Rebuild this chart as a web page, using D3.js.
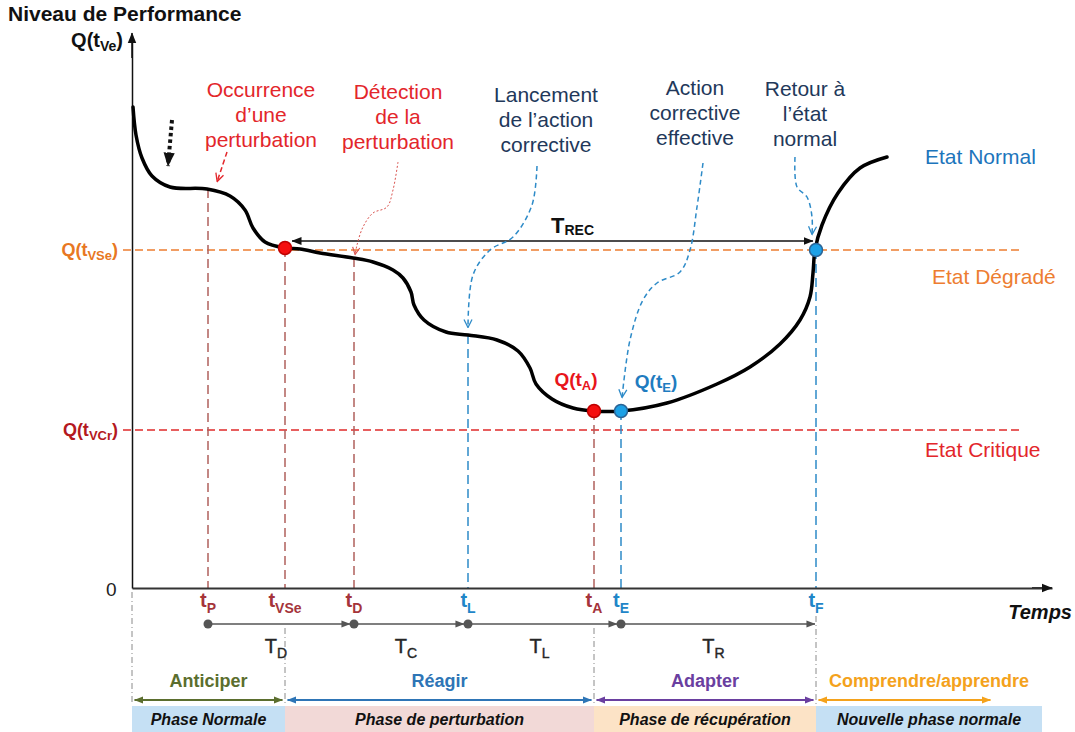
<!DOCTYPE html>
<html>
<head>
<meta charset="utf-8">
<script src="https://cdn.jsdelivr.net/npm/d3@7"></script>
<style>
  body { margin: 0; background: #fff; }
  svg { display: block; font-family: "Liberation Sans", Arial, sans-serif; }
</style>
</head>
<body>
<div id="chart"></div>
<script>
// performance curve Q(t) (arbitrary units)
var curve = [
  [0.1, 48.1], [0.4, 45.3], [1.0, 43.0], [2.0, 41.2], [3.8, 40.1], [7.5, 39.9],
  [9.8, 39.2], [11.3, 37.8], [12.1, 36.0], [13.3, 34.6], [15.3, 34.0], [16.8, 33.9],
  [18.8, 33.5], [22.1, 33.0], [24.1, 32.6], [26.1, 31.8], [27.1, 31.0], [27.9, 29.6],
  [28.2, 28.3], [29.2, 26.8], [31.4, 25.6], [33.6, 25.3], [36.5, 24.8], [38.6, 23.7],
  [39.8, 22.0], [40.4, 20.4], [42.0, 18.9], [44.1, 18.0], [46.2, 17.7], [48.9, 17.7],
  [53.5, 18.5], [58.5, 20.4], [61.8, 22.1], [64.8, 24.4], [66.8, 26.8], [67.8, 29.1],
  [68.1, 31.5], [68.3, 33.8], [69.0, 36.3], [70.6, 39.5], [72.8, 42.0], [75.5, 43.1]
];

// events on the time axis (t) and the performance level where they happen (q)
var events = [
  {id: "P",   t: 7.6,  q: 39.9, group: "pert"},
  {id: "VSe", t: 15.3, q: 34.0, group: "pert"},
  {id: "D",   t: 22.2, q: 33.0, group: "pert"},
  {id: "L",   t: 33.6, q: 25.3, group: "act"},
  {id: "A",   t: 46.2, q: 17.7, group: "pert"},
  {id: "E",   t: 48.9, q: 17.7, group: "act"},
  {id: "F",   t: 68.4, q: 33.8, group: "act"}
];
var markedEvents = ["VSe", "A", "E", "F"];

// thresholds
var thresholds = [
  {id: "VSe", q: 33.8},
  {id: "VCr", q: 15.8}
];
var stateNames = ["Etat Normal", "Etat Dégradé", "Etat Critique"];

// durations between events
var durations = [
  {id: "D", from: "P", to: "D"},
  {id: "C", from: "D", to: "L"},
  {id: "L", from: "L", to: "E"},
  {id: "R", from: "E", to: "F"}
];
var recovery = {from: "VSe", to: "F", q: 34.7};

// phases
var phaseBounds = [0, 15.3, 46.2, 68.4, 91];
var phaseNames = ["Phase Normale", "Phase de perturbation", "Phase de récupération", "Nouvelle phase normale"];
var verbNames = ["Anticiper", "Réagir", "Adapter", "Comprendre/apprendre"];
var learnEnd = 86.1;

// callouts: text and the leader path (t, q)
var callouts = [
  {lines: ["Occurrence", "d’une", "perturbation"], kind: "red",
   path: [[9.5, 43.6], [9.0, 42.1], [8.5, 40.6]]},
  {lines: ["Détection", "de la", "perturbation"], kind: "redthin",
   path: [[26.6, 42.6], [26.1, 39.8], [25.5, 38.1], [24.1, 37.5], [23.1, 36.1], [22.5, 34.3], [22.3, 33.3]]},
  {lines: ["Lancement", "de l’action", "corrective"], kind: "blue",
   path: [[40.5, 42.2], [40.0, 38.3], [38.1, 35.1], [35.8, 33.8], [34.1, 31.3], [33.6, 26.0]]},
  {lines: ["Action", "corrective", "effective"], kind: "blue",
   path: [[57.1, 42.5], [56.5, 38.1], [55.8, 33.8], [54.8, 31.6], [52.5, 30.5], [51.1, 28.8], [49.8, 24.8], [49.0, 19.0]]},
  {lines: ["Retour à", "l’état", "normal"], kind: "blue",
   path: [[66.3, 43.1], [66.5, 40.1], [67.5, 39.1], [68.0, 37.1], [68.0, 35.3]]}
];
var nudge = [[4.0, 46.8], [3.6, 42.2]];

// ---- drawing ----
var W = 1075, H = 732;
var svg = d3.select("#chart").append("svg").attr("width", W).attr("height", H);
var defs = svg.append("defs");

var x = d3.scaleLinear().domain([0, 92]).range([132, 1052]);
var y = d3.scaleLinear().domain([0, 55.3]).range([588, 35]);

var RED = "#E3262B", NAVY = "#22385A", BLUE = "#1C75BC", ORANGE = "#ED7D31";
var groupText = {pert: "#A5343A", act: "#1F86C8"};
var groupLine = {pert: "#B0605C", act: "#2E8BC8"};

function marker(id, color, open, size) {
  var m = defs.append("marker").attr("id", id)
    .attr("viewBox", "0 -5 10 10").attr("refX", 9.5).attr("refY", 0)
    .attr("markerUnits", "userSpaceOnUse")
    .attr("markerWidth", size).attr("markerHeight", size)
    .attr("orient", "auto-start-reverse");
  m.append("path")
    .attr("d", open ? "M1,-4L9,0L1,4" : "M0,-4L10,0L0,4Z")
    .attr("fill", open ? "none" : color)
    .attr("stroke", open ? color : "none")
    .attr("stroke-width", open ? 1.3 : 0);
}
marker("ax", "#111", false, 11);
marker("blk", "#111", false, 10);
marker("nudge", "#111", false, 14);
marker("gry", "#555", false, 9);
marker("c-red", RED, true, 10);
marker("c-redthin", "#D9534F", true, 9);
marker("c-blue", "#2E8BC8", true, 10);
var verbColors = ["#5B6E2E", "#2E75B6", "#6A3FA0", "#F4A21C"];
verbColors.forEach(function (c, i) { marker("v" + i, c, false, 9); });

// text with _{sub} parts
function rich(g, str, px, py, o) {
  var t = g.append("text").attr("x", px).attr("y", py)
    .attr("text-anchor", o.anchor || "start").attr("fill", o.color || "#000")
    .style("font-size", o.size + "px")
    .style("font-weight", o.bold ? "bold" : "normal")
    .style("font-style", o.italic ? "italic" : "normal");
  var bits = str.split(/_\{([^}]*)\}/);
  var subSize = o.sub || Math.round(o.size * 0.7);
  var shift = o.shift != null ? o.shift : Math.round(o.size * 0.25);
  var cur = 0;
  bits.forEach(function (b, i) {
    if (!b) return;
    var isSub = i % 2 === 1;
    var target = isSub ? shift : 0;
    t.append("tspan").attr("dy", target - cur)
      .style("font-size", (isSub ? subSize : o.size) + "px").text(b);
    cur = target;
  });
  return t;
}

var byId = {};
events.forEach(function (e) { byId[e.id] = e; });
var y0 = y(0);

// phase boxes
var boxColors = ["#C5E0F4", "#F2D9D7", "#FCE3C6", "#C5E0F4"];
var phases = svg.append("g");
phaseNames.forEach(function (name, i) {
  var a = x(phaseBounds[i]), b = x(phaseBounds[i + 1]);
  phases.append("rect").attr("x", a).attr("y", 706).attr("width", b - a).attr("height", 26)
    .attr("fill", boxColors[i]);
  rich(phases, name, (a + b) / 2, 725, {size: 16, bold: true, italic: true, anchor: "middle", color: "#111"});
  var end = i === 3 ? x(learnEnd) : b;
  phases.append("line").attr("x1", a + 2.5).attr("x2", end - 2.5).attr("y1", 700).attr("y2", 700)
    .attr("stroke", verbColors[i]).attr("stroke-width", 2)
    .attr("marker-start", "url(#v" + i + ")").attr("marker-end", "url(#v" + i + ")");
  rich(phases, verbNames[i], (a + b) / 2, 687, {size: 18, bold: true, anchor: "middle", color: verbColors[i]});
});

// gray dash-dot separators
var seps = [{t: 0, top: y0 + 4}, {t: byId.VSe.t, top: 628}, {t: byId.A.t, top: 628}, {t: byId.F.t, top: 616}];
svg.append("g").selectAll("line").data(seps).join("line")
  .attr("x1", function (d) { return x(d.t); }).attr("x2", function (d) { return x(d.t); })
  .attr("y1", function (d) { return d.top; }).attr("y2", 705)
  .attr("stroke", "#8a8a8a").attr("stroke-width", 1).attr("stroke-dasharray", "6,3,1,3");

// thresholds
var thrColors = [ORANGE, "#E02A2A"];
svg.append("g").selectAll("line").data(thresholds).join("line")
  .attr("x1", x(0) - 9).attr("x2", x(89.1))
  .attr("y1", function (d) { return y(d.q); }).attr("y2", function (d) { return y(d.q); })
  .attr("stroke", function (d, i) { return thrColors[i]; })
  .attr("stroke-width", 1.5).attr("stroke-dasharray", "8,4");
var thrLabelColors = ["#E87722", "#B4191E"];
thresholds.forEach(function (d, i) {
  rich(svg, "Q(t_{" + d.id + "})", 118, y(d.q) + 6, {size: 18, bold: true, anchor: "end", color: thrLabelColors[i], sub: 13, shift: 4});
});

// event verticals
svg.append("g").selectAll("line").data(events).join("line")
  .attr("x1", function (d) { return x(d.t); }).attr("x2", function (d) { return x(d.t); })
  .attr("y1", function (d) { return y(d.q); }).attr("y2", y0)
  .attr("stroke", function (d) { return groupLine[d.group]; })
  .attr("stroke-width", 1.5).attr("stroke-dasharray", "9,5");

// axes
var xAxis = svg.append("g").attr("transform", "translate(0," + y0 + ")")
  .call(d3.axisBottom(x).tickValues([]).tickSize(0).tickSizeOuter(0));
xAxis.select(".domain").attr("stroke", "#333").attr("stroke-width", 2);
var yAxis = svg.append("g").attr("transform", "translate(" + x(0) + ",0)")
  .call(d3.axisLeft(y).tickValues([]).tickSize(0).tickSizeOuter(0));
yAxis.select(".domain").attr("stroke", "#111").attr("stroke-width", 1.5);
svg.append("line").attr("x1", x(90)).attr("x2", x(92)).attr("y1", y0).attr("y2", y0)
  .attr("stroke", "#333").attr("stroke-width", 2).attr("marker-end", "url(#ax)");
svg.append("line").attr("x1", x(0)).attr("x2", x(0)).attr("y1", y(53)).attr("y2", y(55.5))
  .attr("stroke", "#111").attr("stroke-width", 1.5).attr("marker-end", "url(#ax)");
svg.append("text").attr("x", 106).attr("y", 596).style("font-size", "19px").attr("fill", "#222").text("0");

rich(svg, "Niveau de Performance", 8, 21, {size: 21, bold: true, color: "#111"});
rich(svg, "Q(t_{Ve})", 123, 47, {size: 20, bold: true, anchor: "end", color: "#111", sub: 14, shift: 4});
rich(svg, "Temps", 1072, 619, {size: 20, bold: true, italic: true, anchor: "end", color: "#111"});

// event tick labels
events.forEach(function (e) {
  rich(svg, "t_{" + e.id + "}", x(e.t), 607, {size: 20, bold: true, anchor: "middle", color: groupText[e.group], sub: 14, shift: 6});
});

// duration timeline
var tlY = y0 + 36;
var tl = svg.append("g");
durations.forEach(function (d, i) {
  var a = x(byId[d.from].t), b = x(byId[d.to].t);
  var last = i === durations.length - 1;
  tl.append("line").attr("x1", a + 4).attr("x2", last ? b - 1 : b - 4).attr("y1", tlY).attr("y2", tlY)
    .attr("stroke", "#555").attr("stroke-width", 1.5).attr("marker-end", "url(#gry)");
  tl.append("circle").attr("cx", a).attr("cy", tlY).attr("r", 4.5).attr("fill", "#555");
  rich(tl, "T_{" + d.id + "}", (a + b) / 2 - 5, 653, {size: 20, anchor: "middle", color: "#262626", sub: 14, shift: 5})
    .style("stroke", "#262626").style("stroke-width", 0.4);
});

// T_REC arrow
var rx1 = x(byId[recovery.from].t) + 7, rx2 = x(byId[recovery.to].t) - 3;
svg.append("line").attr("x1", rx1).attr("x2", rx2).attr("y1", y(recovery.q)).attr("y2", y(recovery.q))
  .attr("stroke", "#111").attr("stroke-width", 1.5)
  .attr("marker-start", "url(#blk)").attr("marker-end", "url(#blk)");
rich(svg, "T_{REC}", (rx1 + rx2) / 2 + 20, 233, {size: 22, bold: true, anchor: "middle", color: "#111", sub: 14, shift: 2});

// the curve
var line = d3.line().x(function (d) { return x(d[0]); }).y(function (d) { return y(d[1]); })
  .curve(d3.curveCatmullRom.alpha(0.5));
svg.append("path").datum(curve).attr("d", line)
  .attr("fill", "none").attr("stroke", "#000").attr("stroke-width", 3.5)
  .attr("stroke-linecap", "round").attr("stroke-linejoin", "round");

// dotted nudge arrow
svg.append("path").datum(nudge).attr("d", d3.line().x(function (d) { return x(d[0]); }).y(function (d) { return y(d[1]); }))
  .attr("stroke", "#111").attr("stroke-width", 4).attr("stroke-dasharray", "3.5,3")
  .attr("marker-end", "url(#nudge)");

// callouts
var calloutStyle = {
  red: {color: RED, width: 1.5, dash: "5,3", marker: "c-red", text: RED},
  redthin: {color: "#D9534F", width: 1, dash: "2,2", marker: "c-redthin", text: RED},
  blue: {color: "#2E8BC8", width: 1.5, dash: "5,3.5", marker: "c-blue", text: NAVY}
};
var calloutText = [[261, 97], [398, 99], [546, 102], [695, 95], [805, 96]];
var lead = d3.line().x(function (d) { return x(d[0]); }).y(function (d) { return y(d[1]); })
  .curve(d3.curveCatmullRom.alpha(0.5));
callouts.forEach(function (c, i) {
  var s = calloutStyle[c.kind];
  svg.append("path").datum(c.path).attr("d", lead)
    .attr("fill", "none").attr("stroke", s.color).attr("stroke-width", s.width)
    .attr("stroke-dasharray", s.dash).attr("marker-end", "url(#" + s.marker + ")");
  c.lines.forEach(function (l, j) {
    rich(svg, l, calloutText[i][0], calloutText[i][1] + j * 25, {size: 21, anchor: "middle", color: s.text});
  });
});

// marked points
var pts = events.filter(function (e) { return markedEvents.indexOf(e.id) >= 0; });
svg.append("g").selectAll("circle").data(pts).join("circle")
  .attr("cx", function (d) { return x(d.t); }).attr("cy", function (d) { return y(d.q); })
  .attr("r", 6.5)
  .attr("fill", function (d) { return d.group === "pert" ? "#F50F0F" : "#1DA1E6"; })
  .attr("stroke", function (d) { return d.group === "pert" ? "#C00000" : "#2A6496"; })
  .attr("stroke-width", 1.5);

rich(svg, "Q(t_{A})", x(byId.A.t) - 18, y(byId.A.q) - 25, {size: 19, bold: true, anchor: "middle", color: "#E8151B", sub: 13, shift: 4});
rich(svg, "Q(t_{E})", x(byId.E.t) + 35, y(byId.E.q) - 23, {size: 19, bold: true, anchor: "middle", color: "#1F7CC0", sub: 13, shift: 4});

// state labels
rich(svg, stateNames[0], 925, y(curve[curve.length - 1][1]) + 7, {size: 21, color: BLUE});
rich(svg, stateNames[1], 932, y(thresholds[0].q) + 34, {size: 21, color: ORANGE});
rich(svg, stateNames[2], 925, y(thresholds[1].q) + 27, {size: 21, color: RED});
</script>
</body>
</html>
